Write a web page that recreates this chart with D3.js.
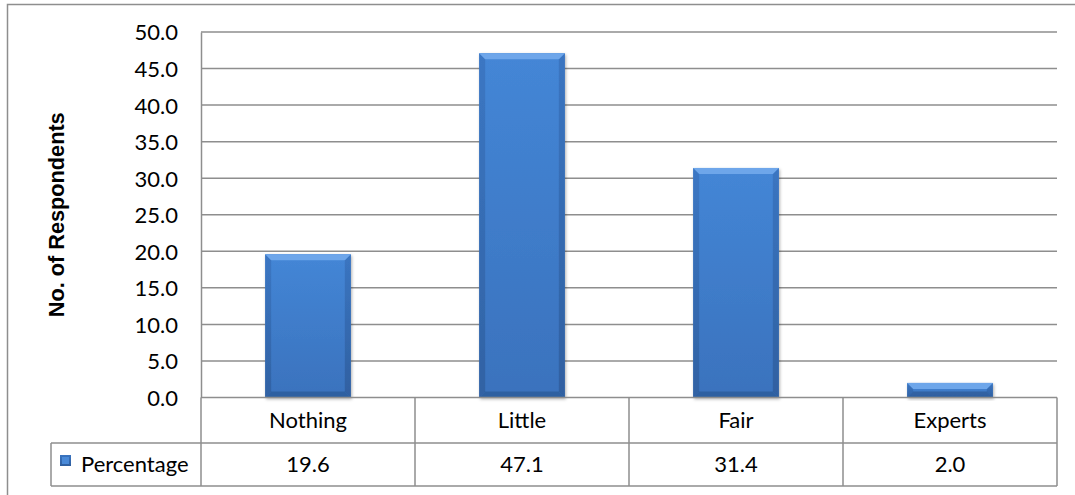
<!DOCTYPE html>
<html>
<head>
<meta charset="utf-8">
<script src="https://cdn.jsdelivr.net/npm/d3@7"></script>
<style>
  html, body { margin: 0; padding: 0; background: #fff; }
  svg { display: block; }
  .lbl { font-family: Lato, "Open Sans", sans-serif; font-size: 22px; fill: #000; }
</style>
</head>
<body>
<svg id="chart" width="1075" height="495"></svg>
<script>
// Knowledge level categories and the share of respondents in each
const categories = ["Nothing", "Little", "Fair", "Experts"];
const percentage = [19.6, 47.1, 31.4, 2.0];
const seriesName = "Percentage";
const yTicks = [0, 5, 10, 15, 20, 25, 30, 35, 40, 45, 50];
const yTitle = "No. of Respondents";

const W = 1075, H = 495;
const plot = { left: 201, right: 1057, top: 32, bottom: 397.5 };
const table = { left: 51, row1: 397.5, row2: 443, bottom: 486 };
const grid = "#8e8e8e";

const svg = d3.select("#chart");
const defs = svg.append("defs");

// Bar body gradient (light top to deeper blue bottom)
const body = defs.append("linearGradient").attr("id", "barBody")
  .attr("x1", 0).attr("y1", 0).attr("x2", 0).attr("y2", 1);
body.append("stop").attr("offset", "0%").attr("stop-color", "#4486d6");
body.append("stop").attr("offset", "100%").attr("stop-color", "#3a72bd");

const side = defs.append("linearGradient").attr("id", "barSide")
  .attr("x1", 0).attr("y1", 0).attr("x2", 0).attr("y2", 1);
side.append("stop").attr("offset", "0%").attr("stop-color", "#3a74c0");
side.append("stop").attr("offset", "100%").attr("stop-color", "#2f5f9f");

const shadow = defs.append("filter").attr("id", "barShadow")
  .attr("x", "-20%").attr("y", "-20%").attr("width", "140%").attr("height", "140%");
shadow.append("feDropShadow").attr("dx", 1).attr("dy", 1.5)
  .attr("stdDeviation", 1.5).attr("flood-color", "#000").attr("flood-opacity", 0.3);

// Outer chart frame
svg.append("rect")
  .attr("x", 7.5).attr("y", 4.5).attr("width", W).attr("height", H)
  .attr("fill", "none").attr("stroke", grid).attr("stroke-width", 1.5);

// Scales
const x = d3.scaleBand().domain(categories)
  .range([plot.left, plot.right]).paddingInner(0.6).paddingOuter(0.3);
const col = d3.scaleBand().domain(categories)
  .range([plot.left, plot.right]).padding(0);
const y = d3.scaleLinear().domain([0, 50]).range([plot.bottom, plot.top]);

// Horizontal gridlines
svg.append("g").selectAll("line").data(yTicks.filter(d => d > 0)).join("line")
  .attr("x1", plot.left).attr("x2", plot.right)
  .attr("y1", d => y(d)).attr("y2", d => y(d))
  .attr("stroke", grid).attr("stroke-width", 1.5);

// Value axis on the left with one-decimal labels
const yAxis = d3.axisLeft(y).tickValues(yTicks).tickFormat(d3.format(".1f"))
  .tickSize(0).tickPadding(23);
const gy = svg.append("g").attr("transform", `translate(${plot.left},0)`).call(yAxis);
gy.select(".domain").attr("stroke", grid).attr("stroke-width", 1.5);
gy.selectAll("text").attr("class", "lbl").attr("font-family", null).attr("font-size", null)
  .attr("dy", "0.36em");

// Axis title
svg.append("text")
  .attr("transform", `translate(64,${(plot.top + plot.bottom) / 2 + 0}) rotate(-90)`)
  .attr("text-anchor", "middle")
  .style("font-family", "'Liberation Sans', Arial, sans-serif")
  .style("font-weight", "bold").style("font-size", "21.7px")
  .text(yTitle);

// Bevelled bars
const bars = svg.append("g").selectAll("g").data(categories).join("g")
  .attr("filter", "url(#barShadow)");
bars.each(function (c, i) {
  const g = d3.select(this);
  const x0 = x(c), w = x.bandwidth();
  const y0 = y(percentage[i]), y1 = y(0);
  const h = y1 - y0;
  const b = Math.min(6, h / 2);
  g.append("rect").attr("x", x0).attr("y", y0).attr("width", w).attr("height", h)
    .attr("fill", "url(#barBody)");
  // left and right bevels
  g.append("path").attr("d", `M${x0},${y0}L${x0 + b},${y0 + b}L${x0 + b},${y1 - b}L${x0},${y1}Z`)
    .attr("fill", "url(#barSide)").attr("opacity", 0.85);
  g.append("path").attr("d", `M${x0 + w},${y0}L${x0 + w - b},${y0 + b}L${x0 + w - b},${y1 - b}L${x0 + w},${y1}Z`)
    .attr("fill", "url(#barSide)").attr("opacity", 0.95);
  // top bevel (highlight)
  g.append("path").attr("d", `M${x0},${y0}L${x0 + w},${y0}L${x0 + w - b},${y0 + b}L${x0 + b},${y0 + b}Z`)
    .attr("fill", "#6ea6ea");
  // bottom bevel (shade)
  g.append("path").attr("d", `M${x0},${y1}L${x0 + w},${y1}L${x0 + w - b},${y1 - b}L${x0 + b},${y1 - b}Z`)
    .attr("fill", "#2d5c9a").attr("opacity", 0.8);
});

// Data table below the plot
const tg = svg.append("g").attr("stroke", grid).attr("stroke-width", 1.5);
tg.append("line").attr("x1", plot.left).attr("x2", plot.right).attr("y1", table.row1).attr("y2", table.row1);
tg.append("line").attr("x1", table.left).attr("x2", plot.right).attr("y1", table.row2).attr("y2", table.row2);
tg.append("line").attr("x1", table.left).attr("x2", plot.right).attr("y1", table.bottom).attr("y2", table.bottom);
tg.append("line").attr("x1", table.left).attr("x2", table.left).attr("y1", table.row2).attr("y2", table.bottom);
tg.append("line").attr("x1", plot.left).attr("x2", plot.left).attr("y1", table.row1).attr("y2", table.bottom);
tg.selectAll("line.col").data(categories).join("line").attr("class", "col")
  .attr("x1", c => col(c) + col.bandwidth()).attr("x2", c => col(c) + col.bandwidth())
  .attr("y1", table.row1).attr("y2", table.bottom);

const midRow1 = (table.row1 + table.row2) / 2;
const midRow2 = (table.row2 + table.bottom) / 2;
svg.append("g").selectAll("text").data(categories).join("text")
  .attr("class", "lbl").attr("text-anchor", "middle")
  .attr("x", c => col(c) + col.bandwidth() / 2).attr("y", midRow1).attr("dy", "0.36em")
  .text(c => c);
svg.append("g").selectAll("text").data(percentage).join("text")
  .attr("class", "lbl").attr("text-anchor", "middle")
  .attr("x", (d, i) => col(categories[i]) + col.bandwidth() / 2).attr("y", midRow2).attr("dy", "0.36em")
  .text(d => d3.format(".1f")(d));

// Legend key inside the table
const key = svg.append("g");
key.append("rect").attr("x", 60).attr("y", 455).attr("width", 11).attr("height", 11)
  .attr("fill", "url(#barSide)");
key.append("rect").attr("x", 62).attr("y", 457).attr("width", 7).attr("height", 7)
  .attr("fill", "#4a8ad8");
key.append("text").attr("class", "lbl").attr("x", 81).attr("y", midRow2).attr("dy", "0.36em")
  .text(seriesName);
</script>
</body>
</html>
